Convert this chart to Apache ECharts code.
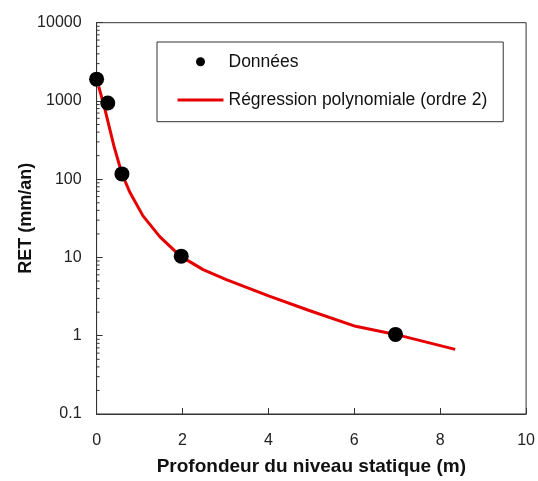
<!DOCTYPE html>
<html>
<head>
<meta charset="utf-8">
<script src="https://cdn.jsdelivr.net/npm/echarts@6/dist/echarts.min.js"></script>
<style>
  html, body { margin: 0; padding: 0; background: #fff; }
  #chart { width: 538px; height: 481px; }
</style>
</head>
<body>
<div id="chart"></div>
<script>
// Measured evapotranspiration vs. static water level depth
const depthData = [0, 0.26, 0.59, 1.97, 6.96];
const retData = [1900, 940, 117, 10.4, 1.04];

// Second-order polynomial regression curve
const fitDepth = [0.05, 0.2, 0.4, 0.59, 0.78, 1.08, 1.47, 1.95, 2.48, 3.02, 4.02, 4.95, 6.03, 6.96, 8.35];
const fitRet = [1530, 760, 270, 117, 67, 34, 18.5, 10.4, 7.0, 5.2, 3.2, 2.1, 1.32, 1.04, 0.67];

// Axis tick labels
const xTickLabels = ['0', '2', '4', '6', '8', '10'];
const yTickLabels = ['0.1', '1', '10', '100', '1000', '10000'];

// Minor ticks of the log axis (2..9 within each decade)
const minorTickValues = [];
for (let e = -1; e < 4; e++) {
  for (let m = 2; m <= 9; m++) minorTickValues.push([0, m * Math.pow(10, e)]);
}

const FONT = 'Liberation Sans, Arial, Helvetica, sans-serif';
const AXIS_COLOR = '#333';

const chart = echarts.init(document.getElementById('chart'), null, { renderer: 'canvas' });

chart.setOption({
  animation: false,
  backgroundColor: '#fff',
  grid: {
    left: 96.6, right: 10.4, top: 22.7, bottom: 66,
    show: true, borderColor: AXIS_COLOR, borderWidth: 1, backgroundColor: 'transparent'
  },
  legend: {
    orient: 'vertical',
    left: 157, top: 42,
    padding: [9.7, 16, 11.7, 19],
    itemWidth: 46, itemHeight: 9, itemGap: 18.3,
    borderColor: AXIS_COLOR, borderWidth: 1,
    backgroundColor: '#fff',
    textStyle: { fontFamily: FONT, fontSize: 17.5, lineHeight: 20, color: '#111' },
    data: [
      { name: 'Données', icon: 'circle', itemStyle: { color: '#000', opacity: 1 } },
      {
        name: 'Régression polynomiale (ordre 2)',
        itemStyle: { opacity: 0 },
        lineStyle: { color: '#e60000', width: 3 }
      }
    ]
  },
  xAxis: {
    type: 'value',
    min: 0, max: 10, interval: 2,
    name: 'Profondeur du niveau statique (m)',
    nameLocation: 'middle',
    nameGap: 43,
    nameTextStyle: { fontFamily: FONT, fontSize: 19, fontWeight: 'bold', color: '#111' },
    axisLine: { show: true, lineStyle: { color: AXIS_COLOR, width: 1 } },
    axisTick: { show: true, inside: true, length: 6, lineStyle: { color: AXIS_COLOR } },
    axisLabel: {
      fontFamily: FONT, fontSize: 16, color: '#222', margin: 19,
      formatter: v => xTickLabels[Math.round(v / 2)]
    },
    splitLine: { show: false }
  },
  yAxis: {
    type: 'log',
    logBase: 10,
    min: 0.1, max: 10000,
    name: 'RET (mm/an)',
    nameLocation: 'middle',
    nameRotate: 90,
    nameGap: 62,
    nameMoveOverlap: false,
    nameTextStyle: { fontFamily: FONT, fontSize: 18, fontWeight: 'bold', color: '#111' },
    axisLine: { show: true, lineStyle: { color: AXIS_COLOR, width: 1 } },
    axisTick: { show: true, inside: true, length: 6, lineStyle: { color: AXIS_COLOR } },
    axisLabel: {
      fontFamily: FONT, fontSize: 16, color: '#222', margin: 15,
      formatter: v => yTickLabels[Math.round(Math.log10(v)) + 1]
    },
    splitLine: { show: false }
  },
  series: [
    {
      name: 'minorTicks',
      type: 'custom',
      silent: true,
      z: 1,
      data: minorTickValues,
      renderItem: (params, api) => {
        const p = api.coord([api.value(0), api.value(1)]);
        return {
          type: 'line',
          shape: { x1: p[0], y1: p[1], x2: p[0] + 3, y2: p[1] },
          style: { stroke: AXIS_COLOR, lineWidth: 1 }
        };
      }
    },
    {
      name: 'Régression polynomiale (ordre 2)',
      type: 'line',
      data: fitDepth.map((x, i) => [x, fitRet[i]]),
      symbol: 'none',
      smooth: false,
      lineStyle: { color: '#e60000', width: 3 },
      itemStyle: { color: '#e60000' },
      z: 2
    },
    {
      name: 'Données',
      type: 'scatter',
      data: depthData.map((x, i) => [x, retData[i]]),
      symbol: 'circle',
      symbolSize: 15,
      itemStyle: { color: '#000', opacity: 1 },
      z: 3
    }
  ]
});
</script>
</body>
</html>
